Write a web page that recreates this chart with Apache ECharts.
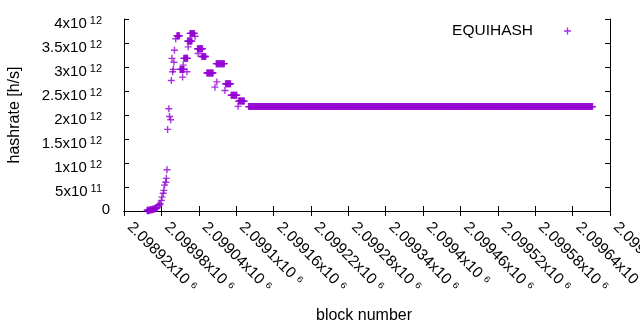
<!DOCTYPE html>
<html><head><meta charset="utf-8">
<script src="https://cdn.jsdelivr.net/npm/echarts@6/dist/echarts.min.js"></script>
<style>html,body{margin:0;padding:0;background:#fff}#c{width:640px;height:330px}</style>
</head><body><div id="c"></div>
<script>
// ---- data ----
const seriesName = 'EQUIHASH';
const xAxisTitle = 'block number';
const yAxisTitle = 'hashrate [h/s]';
const xMin = 2098920, xMax = 2099700, xStep = 60;
const yMin = 0, yMax = 4e12, yStep = 5e11;
// runs of consecutive blocks sharing one hashrate value (value in units of 1e12 h/s)
const runStart = [
  2098957,2098958,2098959,2098960,2098961,2098962,2098963,2098964,2098965,2098966,
  2098967,2098968,2098969,2098970,2098971,2098972,2098973,2098975,2098977,2098978,
  2098980,2098981,2098983,2098984,2098985,2098987,2098988,2098989,2098990,2098992,
  2098993,2098995,2098996,2098997,2098998,2098999,2099000,2099001,2099003,2099005,
  2099010,2099014,2099015,2099016,2099021,2099022,2099023,2099026,2099034,2099038,
  2099039,2099045,2099053,2099066,2099068,2099069,2099082,2099083,2099092,2099103,
  2099104,2099120
];
const runLength = [
  1,1,1,1,1,1,1,1,1,1,
  1,1,1,1,1,1,1,1,1,1,
  1,1,1,1,1,1,1,1,1,1,
  1,1,1,1,1,1,1,1,1,5,
  7,1,1,7,1,8,1,8,1,9,
  1,7,11,1,14,1,1,9,10,1,
  10,553
];
const runHashrateT = [
  0.01,0.02,0.00,0.02,0.01,0.03,0.02,0.03,0.02,0.04,
  0.03,0.04,0.05,0.04,0.06,0.05,0.07,0.12,0.13,0.15,
  0.22,0.29,0.37,0.43,0.54,0.60,0.68,0.86,1.70,2.13,
  1.97,1.90,2.72,3.18,2.90,2.95,3.10,3.35,3.59,3.65,
  2.95,2.79,3.04,3.18,2.90,3.54,3.42,3.70,3.64,3.38,
  3.28,3.22,2.875,2.58,3.07,2.69,2.51,2.65,2.41,2.18,
  2.29,2.175
];

// ---- build points ----
const points = [];
for (let i = 0; i < runStart.length; i++) {
  for (let k = 0; k < runLength[i]; k++) {
    points.push([runStart[i] + k, runHashrateT[i] * 1e12]);
  }
}

const FONT = '"Liberation Sans", Arial, sans-serif';
const plus = 'path://M2.8,0h1.4v2.8h2.8v1.4h-2.8v2.8h-1.4v-2.8h-2.8v-1.4h2.8z';
const color = '#9400d3';
const SUP = {'0':'\u2070','1':'\u00b9','2':'\u00b2','3':'\u00b3','4':'\u2074','5':'\u2075','6':'\u2076','7':'\u2077','8':'\u2078','9':'\u2079'};

function split(v) {
  const e = Math.floor(Math.log10(v) + 1e-9);
  const m = parseFloat((v / Math.pow(10, e)).toPrecision(7));
  return [m, e];
}
function yLabel(v) {
  if (v === 0) return '{z|0}';
  const [m, e] = split(v);
  return '{m|' + m + 'x10}{s|' + e + '}';
}
function xLabel(v) {
  const [m, e] = split(v);
  return m + 'x10 ' + String(e).split('').map(d => SUP[d]).join('');
}
const richY = {
  z: {fontFamily: FONT, fontSize: 15, color: '#000', padding: [0, 0, 3, 0]},
  m: {fontFamily: FONT, fontSize: 15, color: '#000', padding: [9, 0, 0, 0]},
  s: {fontFamily: FONT, fontSize: 11, color: '#000', verticalAlign: 'top', padding: [8, 8, 0, 3]}
};

const chart = echarts.init(document.getElementById('c'), null, {renderer: 'canvas'});
const tickStyle = {show: true, inside: true, length: 5, lineStyle: {color: '#000', width: 1}};
const lineStyle = {show: true, lineStyle: {color: '#000', width: 1}};
chart.setOption({
  animation: false,
  backgroundColor: '#fff',
  grid: {left: 124, right: 30, top: 19, bottom: 119, containLabel: false, outerBoundsMode: 'none'},
  legend: {
    data: [{name: seriesName, icon: plus}],
    align: 'right', right: 69, top: 23, padding: 0,
    itemWidth: 7, itemHeight: 7,
    textStyle: {fontFamily: FONT, fontSize: 15.5, color: '#000', padding: [0, 26, 0, 0]}
  },
  xAxis: [{
    type: 'value', min: xMin, max: xMax, interval: xStep, position: 'bottom',
    axisLine: lineStyle, axisTick: tickStyle, splitLine: {show: false},
    axisLabel: {rotate: -45, formatter: xLabel, margin: 8, padding: [0, 0, 0, 8],
      fontFamily: FONT, fontSize: 15.5, color: '#000', showMinLabel: true, showMaxLabel: true},
    name: xAxisTitle, nameLocation: 'middle', nameGap: 97,
    nameTextStyle: {fontFamily: FONT, fontSize: 16, color: '#000', padding: [0, 6, 0, 0]}
  }, {
    type: 'value', min: xMin, max: xMax, interval: xStep, position: 'top',
    axisLine: lineStyle, axisTick: tickStyle, splitLine: {show: false}, axisLabel: {show: false}
  }],
  yAxis: [{
    type: 'value', min: yMin, max: yMax, interval: yStep, position: 'left',
    axisLine: lineStyle, axisTick: tickStyle, splitLine: {show: false},
    axisLabel: {formatter: yLabel, rich: richY, margin: 14, fontFamily: FONT, fontSize: 15, color: '#000'},
    name: yAxisTitle, nameLocation: 'middle', nameGap: 101,
    nameTextStyle: {fontFamily: FONT, fontSize: 16, color: '#000'}
  }, {
    type: 'value', min: yMin, max: yMax, interval: yStep, position: 'right',
    axisLine: lineStyle, axisTick: tickStyle, splitLine: {show: false}, axisLabel: {show: false}
  }],
  series: [{
    name: seriesName, type: 'scatter', symbol: plus, symbolSize: 7,
    itemStyle: {color: color}, data: points, xAxisIndex: 0, yAxisIndex: 0
  }]
});
</script></body></html>
